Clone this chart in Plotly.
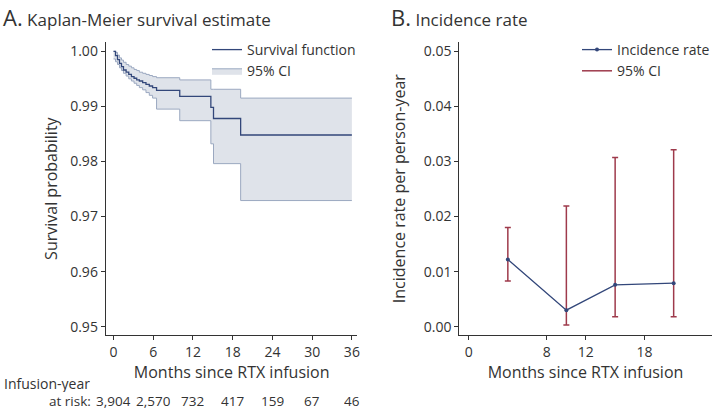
import plotly.graph_objects as go

# ---------------- Panel A data (Kaplan-Meier) ----------------
km_time = [0, 0.3, 0.6, 0.9, 1.2, 1.5, 1.9, 2.3, 2.7, 3.1, 3.5, 3.9, 4.4, 4.9,
           5.4, 5.9, 6.5, 10.0, 14.7, 15.1, 19.2, 36]
km_surv = [1.0, 0.9992, 0.9985, 0.9978, 0.9972, 0.9966, 0.9962, 0.9958, 0.9954,
           0.9951, 0.9948, 0.9946, 0.9943, 0.9940, 0.9937, 0.9934, 0.9929,
           0.9918, 0.9898, 0.9878, 0.9848, 0.9848]
km_upper = [1.0, 0.9998, 0.9993, 0.9988, 0.9984, 0.9980, 0.9976, 0.9973, 0.9970,
            0.9967, 0.9965, 0.9962, 0.9960, 0.9958, 0.9956, 0.9954, 0.9952,
            0.9948, 0.9931, 0.9931, 0.9915, 0.9915]
km_lower = [0.9986, 0.9981, 0.9976, 0.9970, 0.9965, 0.9960, 0.9955, 0.9950, 0.9946,
            0.9942, 0.9938, 0.9934, 0.9930, 0.9925, 0.9920, 0.9915, 0.9895,
            0.9874, 0.9832, 0.9796, 0.9729, 0.9729]

risk_months = [0, 6, 12, 18, 24, 30, 36]
risk_labels = ["3,904", "2,570", "732", "417", "159", "67", "46"]
a_xticks = [0, 6, 12, 18, 24, 30, 36]
a_yticks = [0.95, 0.96, 0.97, 0.98, 0.99, 1.00]

# ---------------- Panel B data (incidence rate) ----------------
ir_month = [4, 10, 15, 21]
ir_rate = [0.0122, 0.0030, 0.0076, 0.0079]
ir_lo = [0.0083, 0.0003, 0.0018, 0.0018]
ir_hi = [0.0180, 0.0219, 0.0307, 0.0321]
b_xticks = [0, 8, 12, 18]
b_yticks = [0.00, 0.01, 0.02, 0.03, 0.04, 0.05]

NAVY = "#33477a"
CI_FILL = "#dfe3ea"
CI_LINE = "#9ba8c0"
RED = "#9e3a4b"
TXT = "#333333"
FONT = "Open Sans"

fig = go.Figure()

fig.add_trace(go.Scatter(
    x=km_time, y=km_lower, mode="lines", line=dict(shape="hv", color=CI_LINE, width=1),
    showlegend=False, xaxis="x", yaxis="y", hoverinfo="skip"))
fig.add_trace(go.Scatter(
    x=km_time, y=km_upper, mode="lines", line=dict(shape="hv", color=CI_LINE, width=1),
    fill="tonexty", fillcolor=CI_FILL, name="95% CI", legend="legend",
    xaxis="x", yaxis="y", legendrank=2))
fig.add_trace(go.Scatter(
    x=km_time, y=km_surv, mode="lines", line=dict(shape="hv", color=NAVY, width=1.3),
    name="Survival function", legend="legend", xaxis="x", yaxis="y", legendrank=1))

# Panel B
fig.add_trace(go.Scatter(
    x=ir_month, y=ir_rate, mode="lines+markers",
    line=dict(color=NAVY, width=1.3), marker=dict(color=NAVY, size=4),
    error_y=dict(type="data", symmetric=False,
                 array=[h - r for h, r in zip(ir_hi, ir_rate)],
                 arrayminus=[r - l for r, l in zip(ir_rate, ir_lo)],
                 color=RED, thickness=1.5, width=3),
    name="Incidence rate", legend="legend2", xaxis="x2", yaxis="y2", legendrank=1))
fig.add_trace(go.Scatter(
    x=[None], y=[None], mode="lines", line=dict(color=RED, width=1.5),
    name="95% CI", legend="legend2", xaxis="x2", yaxis="y2", legendrank=2))

ydom = [(411 - 335) / 411, (411 - 42.3) / 411]
axis_common = dict(showline=True, linecolor="#333333", linewidth=1.3, ticks="outside",
                   ticklen=4, tickcolor="#333333", tickwidth=1, showgrid=False,
                   zeroline=False, automargin=False,
                   tickfont=dict(size=14, color=TXT, family=FONT))

fig.update_layout(
    width=715, height=411,
    margin=dict(l=0, r=0, t=0, b=0),
    paper_bgcolor="white", plot_bgcolor="white",
    font=dict(family=FONT, color=TXT),
    xaxis=dict(domain=[106 / 715, 358 / 715], range=[-1.16, 36.85],
               tickvals=a_xticks, anchor="y",
               title=dict(text="Months since RTX infusion", font=dict(size=16, color=TXT),
                          standoff=0),
               **axis_common),
    yaxis=dict(domain=ydom, range=[0.94849, 1.00163], tickvals=a_yticks,
               tickformat=".2f", anchor="x",
               title=dict(text="Survival probability", font=dict(size=16, color=TXT),
                          standoff=8),
               **axis_common),
    xaxis2=dict(domain=[460 / 715, 712.7 / 715], range=[-0.97, 24.9],
                tickvals=b_xticks, anchor="y2",
                title=dict(text="Months since RTX infusion", font=dict(size=16, color=TXT),
                           standoff=0),
                **axis_common),
    yaxis2=dict(domain=ydom, range=[-0.0015, 0.0516], tickvals=b_yticks,
                tickformat=".2f", anchor="x2",
                title=dict(text="Incidence rate per person-year", font=dict(size=16, color=TXT),
                           standoff=14),
                **axis_common),
    legend=dict(x=207 / 715, y=(411 - 34) / 411, xanchor="left", yanchor="top",
                bgcolor="rgba(0,0,0,0)", font=dict(size=14, color=TXT),
                tracegroupgap=0, itemwidth=30, traceorder="normal"),
    legend2=dict(x=578 / 715, y=(411 - 34) / 411, xanchor="left", yanchor="top",
                 bgcolor="rgba(0,0,0,0)", font=dict(size=14, color=TXT),
                 tracegroupgap=0, itemwidth=30, traceorder="normal"),
)

RISK_FONT = dict(size=13.5, color=TXT, family=FONT)
annotations = [
    dict(text="<span style='font-size:22px'>A.</span> Kaplan-Meier survival estimate",
         x=1 / 715, y=1, xref="paper", yref="paper",
         xanchor="left", yanchor="top", showarrow=False,
         font=dict(size=17, color=TXT, family=FONT)),
    dict(text="<span style='font-size:22px'>B.</span> Incidence rate",
         x=390 / 715, y=1, xref="paper", yref="paper",
         xanchor="left", yanchor="top", showarrow=False,
         font=dict(size=17, color=TXT, family=FONT)),
    dict(text="Infusion-year", x=2 / 715, y=(411 - 383) / 411, xref="paper", yref="paper",
         xanchor="left", yanchor="middle", showarrow=False, height=17,
         font=dict(size=14, color=TXT, family=FONT)),
    dict(text="at risk:", x=93 / 715, y=0, xref="paper", yref="paper",
         xanchor="right", yanchor="bottom", showarrow=False, height=17,
         font=RISK_FONT),
]
for m, lab in zip(risk_months, risk_labels):
    annotations.append(dict(text=lab, x=m, y=0, xref="x", yref="paper",
                            xanchor="center", yanchor="bottom", showarrow=False, height=17,
                            font=RISK_FONT))
fig.update_layout(annotations=annotations)

fig.write_html("out.html", config={"displayModeBar": False},
               post_script="document.body.style.margin='0';document.body.style.overflow='hidden';")
